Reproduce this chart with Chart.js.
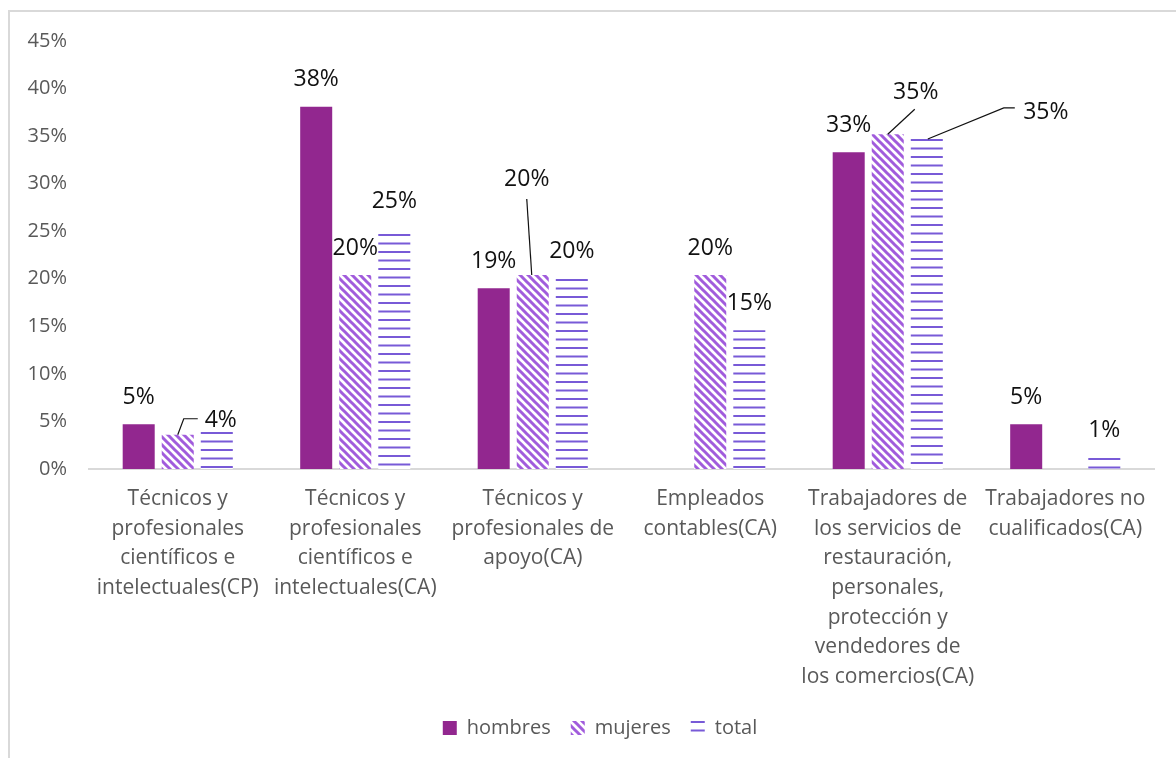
<!DOCTYPE html>
<html>
<head>
<meta charset="utf-8">
<script src="https://cdn.jsdelivr.net/npm/chart.js@4.4.1/dist/chart.umd.min.js"></script>
<style>
  html, body { margin: 0; padding: 0; background: #fff; }
  body { width: 1176px; height: 758px; position: relative; overflow: hidden; }
  #frame { position: absolute; left: 8px; top: 10px; width: 1200px; height: 800px;
           border-left: 2px solid #d9d9d9; border-top: 2px solid #d9d9d9; }
  #c { position: absolute; left: 0; top: 0; }
</style>
</head>
<body>
<div id="frame"></div>
<canvas id="c" width="1176" height="758"></canvas>
<script>
// ---- data ----
const categories = [
  ["Técnicos y", "profesionales", "científicos e", "intelectuales(CP)"],
  ["Técnicos y", "profesionales", "científicos e", "intelectuales(CA)"],
  ["Técnicos y", "profesionales de", "apoyo(CA)"],
  ["Empleados", "contables(CA)"],
  ["Trabajadores de", "los servicios de", "restauración,", "personales,", "protección y", "vendedores de", "los comercios(CA)"],
  ["Trabajadores no", "cualificados(CA)"]
];
const seriesNames = ["hombres", "mujeres", "total"];
const hombres = [4.7, 38.1, 19.0, 0, 33.3, 4.7];
const mujeres = [3.6, 20.4, 20.4, 20.4, 35.2, 0];
const total   = [3.9, 24.7, 20.0, 14.6, 34.7, 1.2];
const yTicks  = [0, 5, 10, 15, 20, 25, 30, 35, 40, 45];

// ---- label placement (styling only) ----
const DEFAULT_DY = -27;
const labelLayout = {
  1: { 0: { dx: 43, dy: -14, leader: [[0, 0], [6, -16], [20, -16]] },
       2: { dx: -6, dy: -96, leader: [[-1, 0], [-6, -76]] },
       4: { dx: 28, dy: -42, leader: [[0, 0], [27, -25]] } },
  2: { 0: { hide: true },
       1: { dy: -33 },
       4: { dx: 119, dy: -27, leader: [[1, 0], [77, -31], [88, -31]] } }
};

// ---- patterns ----
function stripePattern(color) {
  const s = 8;
  const cv = document.createElement('canvas');
  cv.width = s; cv.height = s;
  const g = cv.getContext('2d');
  g.fillStyle = '#fff'; g.fillRect(0, 0, s, s);
  g.strokeStyle = color; g.lineWidth = 3;
  g.beginPath();
  g.moveTo(-2, -2); g.lineTo(s + 2, s + 2);
  g.moveTo(s - 2, -2); g.lineTo(s + 2, 2);
  g.moveTo(-2, s - 2); g.lineTo(2, s + 2);
  g.stroke();
  return g.createPattern(cv, 'repeat');
}
function hLinePattern(color) {
  const cv = document.createElement('canvas');
  cv.width = 8; cv.height = 17;
  const g = cv.getContext('2d');
  g.fillStyle = '#fff'; g.fillRect(0, 0, 8, 17);
  g.fillStyle = color;
  g.fillRect(0, 0, 8, 2);
  g.fillRect(0, 8.5, 8, 2);
  return g.createPattern(cv, 'repeat');
}
// pattern anchored to the top of each bar (like the original's shape fills)
function anchoredFill(maker, color) {
  const base = maker(color);
  return (c) => {
    if (c.type !== 'data' || !c.chart.scales || !c.chart.scales.y) return base;
    const top = Math.round(c.chart.scales.y.getPixelForValue(c.raw));
    const p = maker(color);
    p.setTransform(new DOMMatrix([1, 0, 0, 1, 0, top]));
    return p;
  };
}

const labelPlugin = {
  id: 'valueLabels',
  afterDatasetsDraw(chart) {
    const ctx = chart.ctx;
    ctx.save();
    ctx.font = '23px "Open Sans"';
    ctx.fillStyle = '#111';
    ctx.textAlign = 'center';
    ctx.textBaseline = 'middle';
    chart.data.datasets.forEach((ds, di) => {
      const meta = chart.getDatasetMeta(di);
      meta.data.forEach((bar, i) => {
        const v = ds.data[i];
        if (!v) return;
        const cfg = (labelLayout[di] && labelLayout[di][i]) || {};
        if (cfg.hide) return;
        const dx = cfg.dx || 0, dy = cfg.dy !== undefined ? cfg.dy : DEFAULT_DY;
        if (cfg.leader) {
          ctx.strokeStyle = '#111'; ctx.lineWidth = 1.2;
          ctx.beginPath();
          cfg.leader.forEach((p, k) => {
            const px = bar.x + p[0], py = bar.y + p[1];
            if (k === 0) ctx.moveTo(px, py); else ctx.lineTo(px, py);
          });
          ctx.stroke();
        }
        ctx.fillText(Math.round(v) + '%', bar.x + dx, bar.y + dy);
      });
    });
    ctx.restore();
  }
};

// shift the legend to be centred like the reference
const legendShift = {
  id: 'legendShift',
  afterLayout(chart) {
    if (chart.legend) { chart.legend.left += 23; chart.legend.right += 23; }
  }
};

const font = { family: '"Open Sans"', size: 20 };
const ctx = document.getElementById('c').getContext('2d');
new Chart(ctx, {
  type: 'bar',
  data: {
    labels: categories,
    datasets: [
      { label: seriesNames[0], data: hombres, backgroundColor: '#92278F', borderWidth: 0 },
      { label: seriesNames[1], data: mujeres, backgroundColor: anchoredFill(stripePattern, '#A15CDC'), borderWidth: 0 },
      { label: seriesNames[2], data: total, backgroundColor: anchoredFill(hLinePattern, '#785AD7'), borderWidth: 0 }
    ]
  },
  options: {
    responsive: false,
    animation: false,
    devicePixelRatio: 1,
    categoryPercentage: 0.66,
    barPercentage: 0.82,
    layout: { padding: { left: 0, right: 22, top: 41, bottom: 10 } },
    plugins: {
      legend: {
        position: 'bottom',
        labels: { font: font, color: '#595959', boxWidth: 14, boxHeight: 14, padding: 20 }
      },
      tooltip: { enabled: false }
    },
    scales: {
      x: {
        grid: { display: false, drawTicks: false },
        border: { display: true, color: '#d9d9d9', width: 2 },
        ticks: { font: { family: '"Open Sans"', size: 21, lineHeight: 1.414 }, color: '#595959',
                 maxRotation: 0, minRotation: 0, autoSkip: false, padding: 15 },
        afterFit(scale) { scale.height = 229; }
      },
      y: {
        min: 0, max: 45,
        grid: { display: false, drawTicks: false },
        border: { display: false },
        afterBuildTicks(scale) { scale.ticks = yTicks.map(v => ({ value: v })); },
        ticks: { font: font, color: '#595959', padding: 22, callback: v => v + '%' },
        afterFit(scale) { scale.width = 89; }
      }
    }
  },
  plugins: [labelPlugin, legendShift]
});
</script>
</body>
</html>
